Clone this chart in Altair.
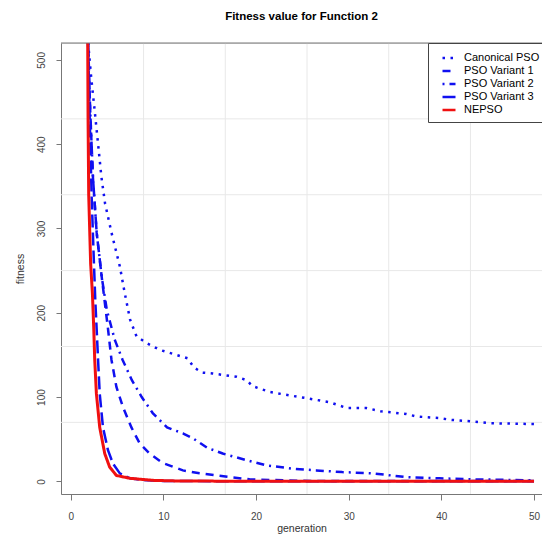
import altair as alt
import pandas as pd

# ---- data ----
series_names = ["Canonical PSO", "PSO Variant 1", "PSO Variant 2", "PSO Variant 3", "NEPSO"]

cano_g = [1.8, 2.2, 2.6, 3.0, 3.3, 3.7, 4.4, 5.3, 5.8, 6.4, 7.1, 8.2, 9.6, 11.4, 12.6, 13.3, 14.2, 15.3,
          17.9, 19.0, 19.6, 21.5, 23.6, 25.8, 27.9, 29.8, 31.9, 33.5, 36.2, 37.3, 39.8, 41.0, 43.4, 45.2, 50]
cano_v = [530, 480, 438, 395, 362, 330, 295, 255, 225, 192, 172, 164, 156, 150, 146, 135, 129, 128,
          124, 120, 113, 106, 102, 98, 94, 87, 87, 83, 80, 77, 75, 73, 71, 69, 68]

v1_g = [1.85, 2.1, 2.4, 2.8, 3.35, 3.7, 4.0, 4.4, 4.93, 5.64, 6.55, 7.44, 8.5, 9.9, 12.1, 13.9, 17.2,
        19.3, 22.9, 26, 50]
v1_v = [530, 440, 360, 295, 242, 210, 183, 144, 112, 88, 64, 45, 33, 22, 13, 9.5, 5,
        2.4, 1.2, 0.5, 0.3]

v2_g = [1.85, 2.1, 2.4, 2.8, 3.35, 3.9, 4.75, 5.6, 6.6, 7.66, 8.85, 10.4, 12.1, 13.2, 14.7, 16.4, 19,
        21.1, 24, 26.5, 29.3, 32.6, 36.2, 39.8, 43.4, 50]
v2_v = [530, 440, 360, 295, 242, 203, 168, 144, 120, 100, 81, 64, 57, 51, 40, 33, 25,
        19, 15, 13, 11, 9.5, 5, 3.6, 2.4, 1.2]

v3_g = [1.85, 2.05, 2.25, 2.5, 2.65, 2.8, 2.95, 3.13, 3.48, 4.02, 4.56, 5.3, 6.4, 8.2, 10.5, 50]
v3_v = [530, 430, 340, 260, 215, 180, 144, 104, 64, 37, 21, 9.5, 3.6, 1.2, 0.3, 0]

ne_g = [1.83, 1.87, 1.94, 2.15, 2.34, 2.48, 2.59, 2.77, 3.13, 3.67, 4.2, 4.93, 6.4, 8.85, 12, 50]
ne_v = [530, 432, 340, 258, 223, 183, 144, 104, 64, 33, 17, 7, 3.6, 1.2, 0.3, 0]

x_ticks = [0, 10, 20, 30, 40, 50]
y_ticks = [0, 100, 200, 300, 400, 500]
x_grid = [7.86, 16.68, 25.5, 34.32, 43.14]
y_grid = [70, 160, 250, 340, 430]

rows = []
for name, gs, vs in zip(series_names,
                        [cano_g, v1_g, v2_g, v3_g, ne_g],
                        [cano_v, v1_v, v2_v, v3_v, ne_v]):
    for i, (g, v) in enumerate(zip(gs, vs)):
        rows.append({"series": name, "generation": g, "fitness": v, "order": i})
df = pd.DataFrame(rows)

W, H = 481, 451
FONT = "Liberation Sans"
xscale = alt.Scale(domain=[-1.05, 50.86], nice=False, zero=False)
yscale = alt.Scale(domain=[-15, 520], nice=False, zero=False)

color_scale = alt.Scale(domain=series_names,
                        range=["#1010f0", "#1010f0", "#1010f0", "#1010f0", "#f01010"])
dash_scale = alt.Scale(domain=series_names,
                       range=[[2.5, 5.5], [8, 6], [2, 5, 8, 5], [13, 5], [1, 0]])

legend = alt.Legend(orient="none", legendX=367, legendY=0, title=None,
                    symbolType="stroke", symbolSize=169, symbolStrokeWidth=2.5,
                    labelFontSize=11, labelFont=FONT, labelColor="black",
                    padding=7, symbolOffset=6, labelOffset=7, rowPadding=0,
                    strokeColor="#444", fillColor="white", cornerRadius=0)

xaxis = alt.Axis(values=x_ticks, title="generation", grid=False, tickSize=6,
                 labelPadding=11, labelFontSize=10, labelFont=FONT, labelColor="#444",
                 tickColor="#777", domainColor="#777", titleFont=FONT, titleFontSize=10.5,
                 titleFontWeight="normal", titleColor="#333", titlePadding=2)
yaxis = alt.Axis(values=y_ticks, title="fitness", grid=False, tickSize=5,
                 labelAngle=270, labelAlign="center", labelBaseline="bottom",
                 labelPadding=10, labelFontSize=10, labelFont=FONT, labelColor="#444",
                 tickColor="#777", domainColor="#777", titleFont=FONT, titleFontSize=10.5,
                 titleFontWeight="normal", titleColor="#333", titlePadding=11)

base = alt.Chart(df)

xgrid_layer = alt.Chart(pd.DataFrame({"g": x_grid})).mark_rule(color="#e8e8e8", strokeWidth=1).encode(
    x=alt.X("g:Q", scale=xscale, axis=xaxis))
ygrid_layer = alt.Chart(pd.DataFrame({"v": y_grid})).mark_rule(color="#e8e8e8", strokeWidth=1).encode(
    y=alt.Y("v:Q", scale=yscale, axis=yaxis))

enc = dict(
    x=alt.X("generation:Q", scale=xscale, axis=xaxis),
    y=alt.Y("fitness:Q", scale=yscale, axis=yaxis),
    color=alt.Color("series:N", scale=color_scale, legend=legend),
    strokeDash=alt.StrokeDash("series:N", scale=dash_scale, legend=legend),
    order="order:Q",
)

blue = base.transform_filter(alt.datum.series != "NEPSO").mark_line(
    clip=True, strokeWidth=2.5, strokeCap="butt").encode(**enc)
red = base.transform_filter(alt.datum.series == "NEPSO").mark_line(
    clip=True, strokeWidth=3, strokeCap="butt").encode(**enc)

top_border = alt.Chart(pd.DataFrame({"a": [0]})).mark_rule(color="#777", strokeWidth=1).encode(
    x=alt.value(0), x2=alt.value(W), y=alt.value(0))

chart = alt.layer(xgrid_layer, ygrid_layer, blue, red, top_border).properties(
    width=W, height=H,
    title=alt.TitleParams("Fitness value for Function 2", font=FONT, fontSize=11.5,
                          fontWeight="bold", anchor="middle", offset=20, dx=0, color="black"),
    autosize=alt.AutoSizeParams(type="none"),
    padding={"left": 53, "top": 35, "right": 0, "bottom": 42},
).configure_view(stroke=None).configure(background="white")

chart.save("out.html", embed_options={"renderer": "svg", "actions": False})
